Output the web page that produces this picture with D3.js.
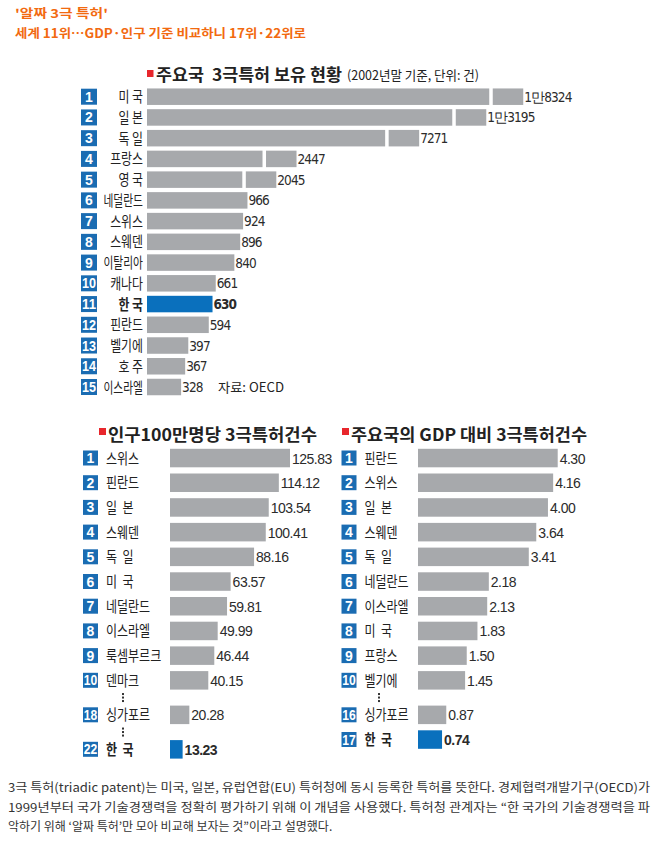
<!DOCTYPE html>
<html><head><meta charset="utf-8">
<script src="https://cdn.jsdelivr.net/npm/d3@7/dist/d3.min.js"></script>
<style>
body{margin:0;background:#fff;}
svg{display:block;}
.kr{font-family:"Noto Sans CJK KR","Noto Sans",sans-serif;}
.num{font-family:"Liberation Sans Narrow","DejaVu Sans Condensed","Liberation Sans",sans-serif;}
.arial{font-family:"Liberation Sans",Arial,sans-serif;}
</style></head>
<body>
<svg id="c" width="657" height="842"></svg>
<script>
// ---------- DATA ----------
const headline1 = "'알짜 3극 특허'";
const headline2 = "세계 11위…GDP·인구 기준 비교하니 17위·22위로";

const topTitle = "주요국  3극특허 보유 현황";
const topSub = "(2002년말 기준, 단위: 건)";
const topCountries = ["미 국","일 본","독 일","프랑스","영 국","네덜란드","스위스","스웨덴","이탈리아","캐나다","한 국","핀란드","벨기에","호 주","이스라엘"];
const topValues = [18324,13195,7271,2447,2045,966,924,896,840,661,630,594,397,367,328];
const topLabels = ["1만8324","1만3195","7271","2447","2045","966","924","896","840","661","630","594","397","367","328"];
const topSource = "자료: OECD";

const popTitle = "인구100만명당 3극특허건수";
const popRanks = [1,2,3,4,5,6,7,8,9,10,18,22];
const popCountries = ["스위스","핀란드","일  본","스웨덴","독  일","미  국","네덜란드","이스라엘","룩셈부르크","덴마크","싱가포르","한  국"];
const popValues = [125.83,114.12,103.54,100.41,88.16,63.57,59.81,49.99,46.44,40.15,20.28,13.23];

const gdpTitle = "주요국의 GDP 대비 3극특허건수";
const gdpRanks = [1,2,3,4,5,6,7,8,9,10,16,17];
const gdpCountries = ["핀란드","스위스","일  본","스웨덴","독  일","네덜란드","이스라엘","미  국","프랑스","벨기에","싱가포르","한  국"];
const gdpValues = [4.30,4.16,4.00,3.64,3.41,2.18,2.13,1.83,1.50,1.45,0.87,0.74];

const footer = [
 "3극 특허(triadic patent)는 미국, 일본, 유럽연합(EU) 특허청에 동시 등록한 특허를 뜻한다. 경제협력개발기구(OECD)가",
 "1999년부터 국가 기술경쟁력을 정확히 평가하기 위해 이 개념을 사용했다. 특허청 관계자는 “한 국가의 기술경쟁력을 파",
 "악하기 위해 ‘알짜 특허’만 모아 비교해 보자는 것”이라고 설명했다."
];
const highlight = "한국";

// ---------- STYLE ----------
const GRAY = "#a7a9ac", KBLUE = "#0a70bd", BOX = "#1a6cb2", RED = "#e8262c", ORANGE = "#f26a10", TXT = "#2b2b2b";
const svg = d3.select("#c");
svg.append("rect").attr("width",657).attr("height",842).attr("fill","#fff");
const isK = s => s.replace(/\s/g,"") === highlight;
function squeeze(sel, ratio){
  const n = sel.node(); const w = n.getComputedTextLength();
  sel.attr("textLength", w*ratio).attr("lengthAdjust","spacingAndGlyphs");
  return sel;
}

// Headline
svg.append("text").attr("class","kr").attr("x",15).attr("y",18).attr("font-size",12).attr("font-weight",700)
  .attr("fill",ORANGE).attr("textLength",93).attr("lengthAdjust","spacingAndGlyphs").text(headline1);
svg.append("text").attr("class","kr").attr("x",15).attr("y",38).attr("font-size",12.5).attr("font-weight",700)
  .attr("fill",ORANGE).attr("textLength",291).attr("lengthAdjust","spacingAndGlyphs").text(headline2);

// ---------- TOP CHART ----------
const x0 = 147;
const breakThreshold = 1000;
const xLin = d3.scaleLinear().domain([0,1000]).range([0,104]);
const xLog = d3.scaleLog().domain([2000,20000]).range([126.8,386.1]);
const topW = v => v > breakThreshold ? xLog(v) : xLin(v);
const yTop = d3.scaleLinear().domain([0,14]).range([96.7,387]);
const topBarH = 16.5;

svg.append("rect").attr("x",147).attr("y",70).attr("width",6.5).attr("height",7).attr("fill",RED);
svg.append("text").attr("class","kr").attr("x",156).attr("y",81).attr("font-size",16.5).attr("font-weight",700)
  .attr("xml:space","preserve").style("white-space","pre")
  .attr("fill","#222").attr("textLength",186).attr("lengthAdjust","spacingAndGlyphs").text(topTitle);
svg.append("text").attr("class","kr").attr("x",347).attr("y",80).attr("font-size",13)
  .attr("fill","#222").attr("textLength",132).attr("lengthAdjust","spacingAndGlyphs").text(topSub);

const tg = svg.append("g");
topCountries.forEach((c,i)=>{
  const cy = yTop(i), w = topW(topValues[i]), k = isK(c);
  tg.append("rect").attr("x",81).attr("y",cy-8).attr("width",16).attr("height",16).attr("fill",BOX);
  const nt = tg.append("text").attr("class","arial").attr("x",89).attr("y",cy+5).attr("text-anchor","middle")
    .attr("font-size",14).attr("font-weight",700).attr("fill","#fff").text(i+1);
  if(i>=9) nt.attr("textLength",14).attr("lengthAdjust","spacingAndGlyphs");
  const lt = tg.append("text").attr("class","kr").attr("x",143).attr("y",cy+5.5).attr("text-anchor","end")
    .attr("font-size",14.5).attr("font-weight",k?700:400).attr("fill","#222").text(c);
  squeeze(lt, c.length>=4 ? 0.74 : 0.82);
  tg.append("rect").attr("x",x0).attr("y",cy-topBarH/2).attr("width",w).attr("height",topBarH)
    .attr("fill",k?KBLUE:GRAY);
  if(topValues[i] > breakThreshold){
    tg.append("rect").attr("x",x0+w-34).attr("y",cy-topBarH/2-1).attr("width",3.5).attr("height",topBarH+2).attr("fill","#fff");
  }
  tg.append("text").attr("class","num").attr("x",x0+w+1).attr("y",cy+5).attr("font-size",13.5)
    .attr("letter-spacing",-0.9).attr("font-weight",k?700:400).attr("fill",TXT).text(topLabels[i]);
});
svg.append("text").attr("class","kr").attr("x",218).attr("y",yTop(14)+5).attr("font-size",13)
  .attr("fill","#222").attr("textLength",66).attr("lengthAdjust","spacingAndGlyphs").text(topSource);

// ---------- BOTTOM CHARTS ----------
function panel(opt){
  const g = svg.append("g");
  g.append("rect").attr("x",opt.sqX).attr("y",428).attr("width",7).attr("height",7).attr("fill",RED);
  g.append("text").attr("class","kr").attr("x",opt.sqX+9).attr("y",441).attr("font-size",17).attr("font-weight",700)
    .attr("fill","#222").attr("textLength",opt.titleW).attr("lengthAdjust","spacingAndGlyphs").text(opt.title);
  const pitch = 24.7, extra = 9.8, y1 = 458;
  let cy = y1;
  const x = d3.scaleLinear().domain([0,opt.maxV]).range([0,opt.maxW]);
  opt.ranks.forEach((r,i)=>{
    if(i>0){
      const jump = r - opt.ranks[i-1] > 1;
      const prev = cy;
      cy += pitch + (jump?extra:0);
      if(jump){
        const my = (prev+cy)/2;
        [-3.5,0,3.5].forEach(d=>g.append("rect").attr("x",opt.dotX-1).attr("y",my+d-1).attr("width",2).attr("height",2).attr("fill","#333"));
      }
    }
    const k = isK(opt.names[i]);
    g.append("rect").attr("x",opt.boxX).attr("y",cy-7.5).attr("width",15).attr("height",15).attr("fill",BOX);
    const nt = g.append("text").attr("class","arial").attr("x",opt.boxX+7.5).attr("y",cy+5).attr("text-anchor","middle")
      .attr("font-size",14).attr("font-weight",700).attr("fill","#fff").text(r);
    if(r>=10) nt.attr("textLength",13.5).attr("lengthAdjust","spacingAndGlyphs");
    const lt = g.append("text").attr("class","kr").attr("x",opt.boxX+23).attr("y",cy+5.5).attr("font-size",15)
      .attr("font-weight",k?700:400).attr("fill","#222").attr("xml:space","preserve").style("white-space","pre").text(opt.names[i]);
    squeeze(lt, 0.8);
    const w = x(opt.values[i]);
    g.append("rect").attr("x",opt.barX).attr("y",cy-9.2).attr("width",w).attr("height",18.5).attr("fill",k?KBLUE:GRAY);
    g.append("text").attr("class","arial").attr("x",opt.barX+w+2).attr("y",cy+5.5).attr("font-size",14)
      .attr("letter-spacing",-0.5).attr("font-weight",k?700:400).attr("fill",TXT).text(opt.values[i].toFixed(2));
  });
}
panel({title:popTitle, titleW:209, sqX:99, boxX:83, barX:170, maxV:125.83, maxW:120, dotX:123,
  ranks:popRanks, names:popCountries, values:popValues});
panel({title:gdpTitle, titleW:236, sqX:342, boxX:341.5, barX:418, maxV:4.30, maxW:139.7, dotX:379,
  ranks:gdpRanks, names:gdpCountries, values:gdpValues});

// ---------- FOOTER ----------
footer.forEach((t,i)=>{
  const el = svg.append("text").attr("class","kr").attr("x",8).attr("y",792+i*19.5).attr("font-size",12)
    .attr("fill","#333").text(t);
  if(i<2) el.attr("textLength",642).attr("lengthAdjust","spacingAndGlyphs");
});
</script>
</body></html>
